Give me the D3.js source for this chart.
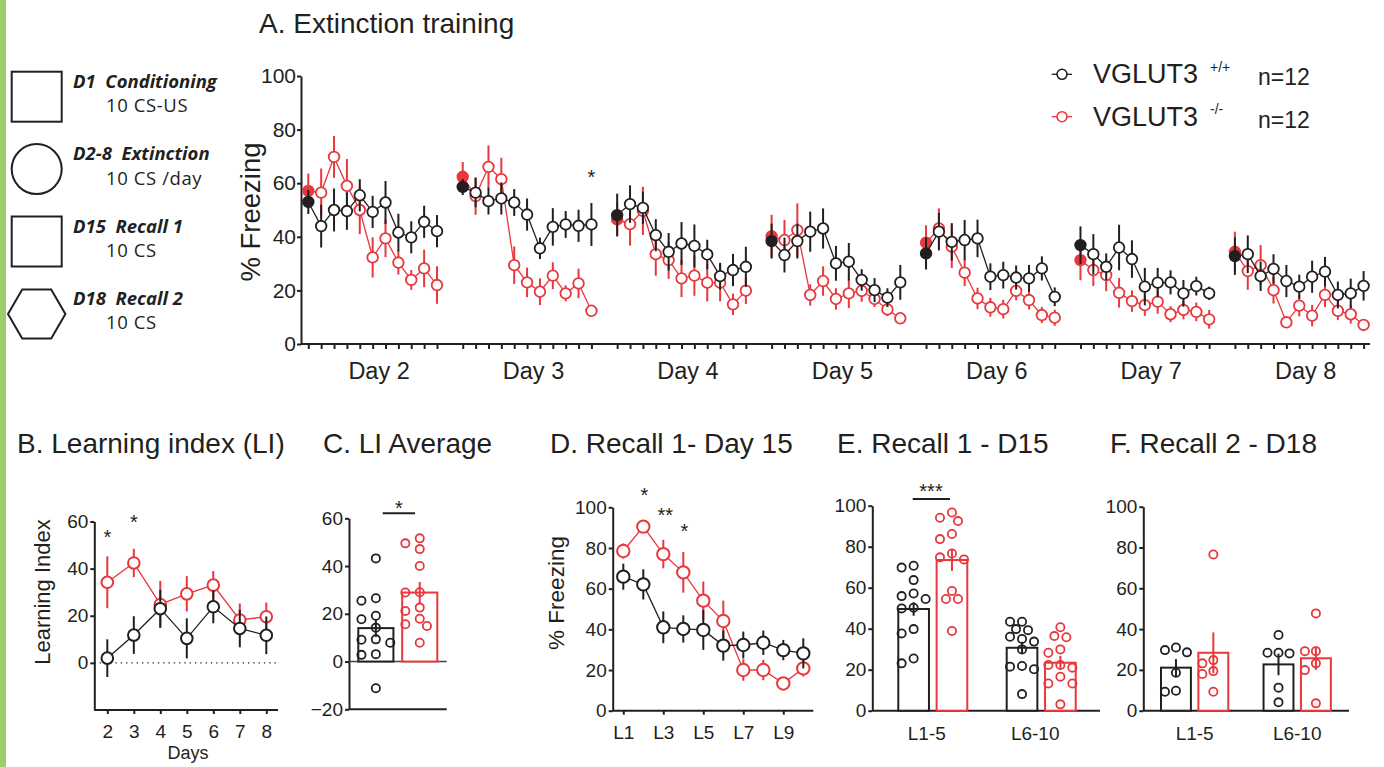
<!DOCTYPE html>
<html>
<head>
<meta charset="utf-8">
<script src="https://cdn.jsdelivr.net/npm/d3@7"></script>
<style>
body { margin: 0; background: #fff; }
svg { display: block; }
</style>
</head>
<body>
<script>
// ---- data ----
let dayNames = ["Day 2", "Day 3", "Day 4", "Day 5", "Day 6", "Day 7", "Day 8"];
// 11 points per day: pre-CS baseline (filled) then CS1..CS10
let wtExtMean = [
  [53, 44, 50, 49.6, 55.5, 49.3, 52.8, 41.6, 39.8, 45.6, 42.1],
  [58.6, 56.5, 53.3, 54.3, 52.8, 48.3, 35.7, 43.7, 44.6, 44.1, 44.6],
  [48.1, 52.2, 50.8, 40.6, 34.4, 37.5, 36.6, 33.4, 25.3, 27.6, 28.8],
  [38.4, 33.2, 38.4, 41.9, 43.1, 30.1, 30.7, 23.9, 20.1, 17.3, 23],
  [33.8, 41.9, 38.1, 38.8, 39.4, 25.1, 25.7, 24.8, 24.5, 28.2, 17.6],
  [36.9, 33.5, 28.8, 36, 31.7, 21.4, 22.9, 23, 18.9, 21.6, 18.9],
  [32.8, 33.5, 25.3, 28, 23.5, 21.4, 25.1, 27, 18.3, 18.9, 21.7]
];
let wtExtSem = [
  [4.5, 8, 8, 7, 6, 6, 8, 7, 6, 6, 6],
  [3, 5.5, 5, 6, 5, 6, 4, 7, 5, 6, 8],
  [8, 7, 6, 6, 7, 8, 8, 5.5, 5, 6, 7.5],
  [6.5, 6.5, 6.5, 7.5, 7.5, 6.5, 7, 4, 4.5, 3.5, 6.5],
  [6, 7, 7, 7.5, 7, 5, 5, 4.5, 5, 4.5, 3.5],
  [7, 7.5, 5, 8.5, 7, 7, 5.5, 4.5, 5, 3.5, 2.5],
  [7, 7, 5.5, 5.5, 6, 4.5, 6, 5.5, 5, 5.5, 5.5]
];
let koExtMean = [
  [57.1, 56.5, 69.8, 59, 50, 32.3, 39.4, 30.4, 23.9, 28.2, 22],
  [62.4, 55.2, 66.1, 61.5, 29.4, 23, 19.5, 25.5, 18.9, 22.6, 12.4],
  [46.5, 44.7, 49.7, 33.5, 31.3, 24.5, 25.5, 22.9, 22.9, 14.8, 19.9],
  [40.2, 38.8, 42.5, 18.3, 23.5, 16.8, 18.9, 19.8, 16.8, 12.9, 9.6],
  [37.8, 43.1, 36.3, 26.6, 17, 13.7, 13, 19.8, 16.4, 10.8, 9.8],
  [31.3, 27.6, 25.7, 19.1, 16, 14.5, 15.8, 11.1, 12.7, 12, 9.2],
  [34.4, 27.2, 29.4, 20.1, 8.1, 14.3, 10.6, 18.3, 12.4, 11.1, 7.1]
];
let koExtSem = [
  [6.5, 9, 7.8, 10, 9, 7.5, 7, 4.5, 3.7, 7, 7],
  [5.5, 7, 8, 8, 7, 5.5, 5, 5, 3, 5.5, 2],
  [6, 8, 9, 8, 7, 7, 7.5, 7, 7, 4, 5],
  [8, 7.5, 10, 4, 5.5, 4, 5.5, 4, 3, 2.5, 2],
  [6.5, 7.5, 8, 5, 4, 3.5, 3.5, 3.5, 3.5, 3, 3],
  [7.5, 6, 6, 5.5, 4, 4, 4.5, 3, 3.5, 3.5, 3.5],
  [7.5, 7, 7.5, 5, 2, 4, 4, 4.5, 3.5, 3.5, 2]
];
let extYTicks = [0, 20, 40, 60, 80, 100];

let liDays = ["2", "3", "4", "5", "6", "7", "8"];
let wtLI = [2, 11.8, 23, 10.4, 23.8, 14.6, 11.7];
let wtLISem = [8, 8, 8, 8.5, 7, 8, 8];
let koLI = [34.2, 42.4, 24.8, 29.3, 33, 18.2, 19.6];
let koLISem = [11, 6, 10, 7.5, 6, 7, 6];
let liStars = ["*", "*", "", "", "", "", ""];

let liAvgWt = [43.2, 26.5, 25.5, 17.7, 19.2, 14.2, 9.1, 9.3, 7.9, 3.1, 2.8, -11.2];
let liAvgKo = [49.5, 51.6, 47.1, 40, 29, 28.9, 21.2, 22.6, 17.9, 15.6, 14.9, 7.9];
let liAvgMean = [14, 28.9];
let liAvgSem = [3.6, 4.4];

let trials = ["L1", "L2", "L3", "L4", "L5", "L6", "L7", "L8", "L9", "L10"];
let wtRec = [65.9, 62.1, 41, 40.2, 39.7, 32, 32.3, 33.4, 29.8, 28.2];
let wtRecSem = [6.4, 7.4, 7.8, 6.7, 9.8, 7.4, 6.6, 6, 5, 7.4];
let koRec = [78.5, 90.5, 77, 68, 54.1, 44.1, 20, 20, 13.4, 20.8];
let koRecSem = [3.7, 2, 7, 10, 9.4, 10, 5.3, 5, 2, 4];
let recStars = ["", "*", "**", "*", "", "", "", "", "", ""];

let blocks = ["L1-5", "L6-10"];
let rec1Wt = [[69.8, 70.7, 63.7, 57.2, 54.5, 55.9, 49.9, 50.2, 39.8, 37.7, 25.5, 23.1],
              [39.8, 43.4, 43.4, 36.1, 39.3, 35, 33.7, 29.9, 21.8, 20.2, 21.5, 8.1]];
let rec1Ko = [[96.7, 92.5, 94.1, 86.2, 83.7, 74.8, 73.8, 76.7, 58.4, 54.5, 54.5, 38.9],
              [40.7, 35.8, 36.4, 29.9, 28.3, 22.3, 21, 22.3, 16.6, 13.3, 13.3, 3.1]];
let rec1WtMean = [49.6, 30.7], rec1WtSem = [3.3, 2.9];
let rec1KoMean = [73.5, 23.4], rec1KoSem = [5.3, 3.3];

let rec2Wt = [[29.7, 28.6, 31, 18.6, 9.3, 9.8], [37.1, 28.4, 28.1, 28.4, 11.3, 4.1]];
let rec2Ko = [[76.6, 24.8, 23.2, 19.4, 18, 9.3], [47.7, 29.2, 29.2, 23.2, 19.9, 3.6]];
let rec2WtMean = [21.1, 22.7], rec2WtSem = [4.2, 5.3];
let rec2KoMean = [28.4, 25.7], rec2KoSem = [10, 5.7];

let protoTitles = ["D1  Conditioning", "D2-8  Extinction", "D15  Recall 1", "D18  Recall 2"];
let protoSubs = ["10 CS-US", "10 CS /day", "10 CS", "10 CS"];
let protoShapes = ["square", "circle", "square", "hexagon"];

// ---- drawing ----
let ink = "#231f20";
let red = "#e8383d";
let font = "'Liberation Sans', Arial, Helvetica, sans-serif";
let titleSize = 28;

let svg = d3.select("body").append("svg")
  .attr("width", 1384).attr("height", 767)
  .style("font-family", font);

let styleAxis = (g, fs) => {
  g.attr("font-family", null).attr("font-size", fs);
  g.selectAll("path, line").attr("stroke", ink).attr("stroke-width", 2);
  g.selectAll("text").attr("fill", ink);
};

let hline = (x1, x2, y, col, sw) => svg.append("line")
  .attr("x1", x1).attr("x2", x2).attr("y1", y).attr("y2", y)
  .attr("stroke", col || ink).attr("stroke-width", sw || 2);

let txt = (x, y, s, fs, anchor) => svg.append("text")
  .attr("x", x).attr("y", y).attr("font-size", fs)
  .attr("text-anchor", anchor || "start").attr("fill", ink).text(s);

// error bars, connecting line segments, circles
let plotSeries = (segs, color, r, sw) => {
  let g = svg.append("g");
  let all = segs.flat();
  g.selectAll(null).data(all).join("line")
    .attr("x1", d => d.x).attr("x2", d => d.x)
    .attr("y1", d => d.lo).attr("y2", d => d.hi)
    .attr("stroke", color).attr("stroke-width", 2);
  g.selectAll(null).data(segs).join("path")
    .attr("d", d3.line().x(d => d.x).y(d => d.y))
    .attr("fill", "none").attr("stroke", color).attr("stroke-width", 1.3);
  g.selectAll(null).data(all).join("circle")
    .attr("cx", d => d.x).attr("cy", d => d.y).attr("r", r)
    .attr("fill", d => d.filled ? color : "#fff")
    .attr("stroke", color).attr("stroke-width", sw);
};

// simple beeswarm so dots of equal value sit side by side
let swarm = (vals, y, cx, r, step) => {
  let order = d3.range(vals.length).sort((a, b) => vals[b] - vals[a]);
  let placed = [], out = [];
  order.forEach(i => {
    let py = y(vals[i]);
    for (let k of [0, -1, 1, -2, 2, -3, 3, -4, 4]) {
      let px = cx + k * step;
      if (placed.every(p => (p.x - px) ** 2 + (p.y - py) ** 2 >= (2 * r + 1) ** 2)) {
        placed.push({x: px, y: py});
        out[i] = {x: px, y: py};
        break;
      }
    }
  });
  return out;
};

// green strip on the left
svg.append("rect").attr("x", 0).attr("y", 0).attr("width", 6).attr("height", 767).attr("fill", "#9ccf6c");

// protocol legend
protoShapes.forEach((shape, i) => {
  let cy = 96.7 + i * 72.4, cx = 36.7;
  let s = svg.append("g").attr("fill", "none").attr("stroke", ink).attr("stroke-width", 2);
  if (shape === "square") {
    s.append("rect").attr("x", cx - 25).attr("y", cy - 25).attr("width", 50).attr("height", 50);
  } else if (shape === "circle") {
    s.append("circle").attr("cx", cx).attr("cy", cy).attr("r", 25);
  } else {
    let hx = 28.7, hw = 14.5, hh = 24.5;
    s.append("path").attr("d", `M${cx - hx},${cy}L${cx - hw},${cy - hh}L${cx + hw},${cy - hh}L${cx + hx},${cy}L${cx + hw},${cy + hh}L${cx - hw},${cy + hh}Z`);
  }
  svg.append("text").attr("x", 73).attr("y", cy - 9)
    .attr("font-family", "'Open Sans', sans-serif").attr("font-weight", 700).attr("font-style", "italic")
    .attr("font-size", 18.5).attr("fill", ink).style("white-space", "pre").text(protoTitles[i]);
  svg.append("text").attr("x", 106).attr("y", cy + 15.5)
    .attr("font-family", "'Open Sans', sans-serif").attr("font-size", 18.5)
    .attr("letter-spacing", 0.6).attr("fill", ink)
    .text(protoSubs[i]);
});

// ---------- A. Extinction training ----------
txt(259, 33, "A. Extinction training", titleSize);
let xA = d3.scaleLinear().domain([0, 82]).range([308.3, 1363.6]);
let yA = d3.scaleLinear().domain([0, 100]).range([344, 76]);
let slot = (d, i) => d * 12 + i;

svg.append("g").attr("transform", "translate(301,0)")
  .call(d3.axisLeft(yA).tickValues(extYTicks).tickSize(4).tickSizeOuter(0).tickPadding(1))
  .call(g => styleAxis(g, 21));
let slots = dayNames.flatMap((d, di) => d3.range(11).map(i => slot(di, i)));
svg.append("g").attr("transform", "translate(0,344)")
  .call(d3.axisBottom(xA).tickValues(slots).tickSize(5).tickFormat(""))
  .call(g => { styleAxis(g, 10); g.select(".domain").remove(); });
hline(301, 1370, 344);
dayNames.forEach((d, di) => txt(xA(slot(di, 5.5)), 379, d, 23.5, "middle"));
svg.append("text").attr("transform", "translate(260,212) rotate(-90)")
  .attr("text-anchor", "middle").attr("font-size", 27.5).attr("fill", ink).text("% Freezing");

let extSegs = (mean, sem) => mean.map((day, di) => day.map((m, i) => ({
  x: xA(slot(di, i)), y: yA(m), lo: yA(m - sem[di][i]), hi: yA(m + sem[di][i]), filled: i === 0
})));
plotSeries(extSegs(koExtMean, koExtSem), red, 5.3, 1.8);
plotSeries(extSegs(wtExtMean, wtExtSem), ink, 5.3, 1.8);
txt(xA(slot(1, 10)), 184, "*", 20, "middle");

// legend
[[ink, "+/+"], [red, "-/-"]].forEach(([col, sup], i) => {
  let cy = 74.3 + i * 42.4;
  hline(1051.7, 1072, cy, col, 1.3);
  svg.append("circle").attr("cx", 1062).attr("cy", cy).attr("r", 5)
    .attr("fill", "#fff").attr("stroke", col).attr("stroke-width", 1.6);
  txt(1093, cy + 9, "VGLUT3", 27);
  txt(1210, cy - 2 - (i ? 1 : 0), sup, 14);
  txt(1258, cy + 11, "n=12", 23);
});

// ---------- B. Learning index ----------
txt(17, 453, "B. Learning index (LI)", titleSize);
let xB = d3.scalePoint().domain(liDays).range([107.3, 266.3]);
let yB = d3.scaleLinear().domain([-20, 60]).range([710, 521.5]);
svg.append("g").attr("transform", "translate(94.3,0)")
  .call(d3.axisLeft(yB).tickValues([0, 20, 40, 60]).tickSize(4).tickSizeOuter(0).tickPadding(2))
  .call(g => styleAxis(g, 19));
svg.append("g").attr("transform", "translate(0,710)")
  .call(d3.axisBottom(xB).tickSize(4).tickPadding(11))
  .call(g => { styleAxis(g, 19); g.select(".domain").remove(); });
hline(94.3, 278, 710);
hline(94.3, 278, yB(0), ink, 1.3).attr("stroke-dasharray", "1.3,4");
txt(188, 759, "Days", 18, "middle");
svg.append("text").attr("transform", "translate(50,592) rotate(-90)")
  .attr("text-anchor", "middle").attr("font-size", 22).attr("fill", ink).text("Learning Index");
let lineSeg = (xs, ys, keys, mean, sem) => [mean.map((m, i) => ({
  x: xs(keys[i]), y: ys(m), lo: ys(m - sem[i]), hi: ys(m + sem[i]), filled: false
}))];
plotSeries(lineSeg(xB, yB, liDays, koLI, koLISem), red, 5.8, 2);
plotSeries(lineSeg(xB, yB, liDays, wtLI, wtLISem), ink, 5.8, 2);
liStars.forEach((s, i) => { if (s) txt(xB(liDays[i]), i === 0 ? 544 : 529, s, 20, "middle"); });

// ---------- bar + dot panels ----------
let barPanel = o => {
  let y = d3.scaleLinear().domain(o.domain).range(o.yRange);
  let xG = d3.scaleBand().domain(o.groups).range(o.xRange);
  let xI = d3.scaleBand().domain(["wt", "ko"]).range(o.inner).paddingInner(0.2);
  svg.append("g").attr("transform", `translate(${o.xRange[0] - o.axisGap},0)`)
    .call(d3.axisLeft(y).tickValues(o.ticks).tickSize(4).tickSizeOuter(0).tickPadding(2))
    .call(g => styleAxis(g, 19));
  hline(o.xRange[0] - o.axisGap, o.axisEnd, o.yRange[0]);
  if (o.zeroLine) hline(o.xRange[0] - o.axisGap, o.axisEnd, y(0), "#444", 1.6);
  o.groups.forEach((grp, gi) => {
    if (grp) txt(xG(grp) + (o.inner[0] + o.inner[1]) / 2 + o.labelShift, 740, grp, 19, "middle");
    ["wt", "ko"].forEach(gt => {
      let col = gt === "wt" ? ink : red;
      let x0 = xG(grp) + xI(gt), bw = xI.bandwidth(), cx = x0 + bw / 2;
      let m = o.mean[gt][gi], s = o.sem[gt][gi];
      svg.append("rect").attr("x", x0).attr("y", y(m)).attr("width", bw)
        .attr("height", y(0) - y(m)).attr("fill", "#fff").attr("stroke", col).attr("stroke-width", 2);
      svg.append("line").attr("x1", cx).attr("x2", cx).attr("y1", y(m - s)).attr("y2", y(m + s))
        .attr("stroke", col).attr("stroke-width", 2);
      let pos = swarm(o.pts[gt][gi], y, cx, 4.1, o.step);
      svg.append("g").selectAll("circle").data(pos).join("circle")
        .attr("cx", d => d.x).attr("cy", d => d.y).attr("r", 4.1)
        .attr("fill", "none").attr("stroke", col).attr("stroke-width", 1.8);
    });
  });
  return {y, xG, xI};
};

// C. LI Average
txt(323, 453, "C. LI Average", titleSize);
barPanel({
  domain: [-20, 60], yRange: [709.3, 518.3], ticks: [-20, 0, 20, 40, 60],
  groups: [""], xRange: [349, 446.7], inner: [9.3, 88.3], axisGap: 0, axisEnd: 446.7,
  zeroLine: true, step: 7.2, labelShift: 0,
  mean: {wt: [liAvgMean[0]], ko: [liAvgMean[1]]}, sem: {wt: [liAvgSem[0]], ko: [liAvgSem[1]]},
  pts: {wt: [liAvgWt], ko: [liAvgKo]}
});
hline(382.7, 415, 513.3, ink, 2);
txt(399, 515, "*", 20, "middle");

// ---------- D. Recall 1 - Day 15 ----------
txt(550, 453, "D. Recall 1- Day 15", titleSize);
let xD = d3.scalePoint().domain(trials).range([623.3, 803.3]);
let yD = d3.scaleLinear().domain([0, 100]).range([710.7, 507.3]);
svg.append("g").attr("transform", "translate(612.7,0)")
  .call(d3.axisLeft(yD).tickValues(extYTicks).tickSize(4).tickSizeOuter(0).tickPadding(2))
  .call(g => styleAxis(g, 19));
svg.append("g").attr("transform", "translate(0,710.7)")
  .call(d3.axisBottom(xD).tickValues(trials.filter((t, i) => i % 2 === 0)).tickSize(4).tickPadding(11))
  .call(g => { styleAxis(g, 19); g.select(".domain").remove(); });
hline(612.7, 813.3, 710.7);
svg.append("text").attr("transform", "translate(564,593) rotate(-90)")
  .attr("text-anchor", "middle").attr("font-size", 22.5).attr("fill", ink).text("% Freezing");
plotSeries(lineSeg(xD, yD, trials, koRec, koRecSem), red, 6.2, 2);
plotSeries(lineSeg(xD, yD, trials, wtRec, wtRecSem), ink, 6.2, 2);
recStars.forEach((s, i) => { if (s) txt(xD(trials[i]) + (s.length > 1 ? 2 : 1), [0, 502, 522, 538][i], s, 20, "middle"); });

// ---------- E. Recall 1 - D15 ----------
txt(837, 453, "E. Recall 1 - D15", titleSize);
barPanel({
  domain: [0, 100], yRange: [710.7, 505.7], ticks: extYTicks,
  groups: blocks, xRange: [878.6, 1095.4], inner: [19.7, 88.7], axisGap: 6.3, axisEnd: 1100,
  zeroLine: false, step: 6, labelShift: -6,
  mean: {wt: rec1WtMean, ko: rec1KoMean}, sem: {wt: rec1WtSem, ko: rec1KoSem},
  pts: {wt: rec1Wt, ko: rec1Ko}
});
hline(912.7, 950, 499, ink, 2);
txt(931, 498, "***", 20, "middle");

// ---------- F. Recall 2 - D18 ----------
txt(1110, 453, "F. Recall 2 - D18", titleSize);
barPanel({
  domain: [0, 100], yRange: [710.7, 506.7], ticks: extYTicks,
  groups: blocks, xRange: [1148, 1353.1], inner: [13, 80.3], axisGap: 4.7, axisEnd: 1349,
  zeroLine: false, step: 11, labelShift: 0,
  mean: {wt: rec2WtMean, ko: rec2KoMean}, sem: {wt: rec2WtSem, ko: rec2KoSem},
  pts: {wt: rec2Wt, ko: rec2Ko}
});
</script>
</body>
</html>
